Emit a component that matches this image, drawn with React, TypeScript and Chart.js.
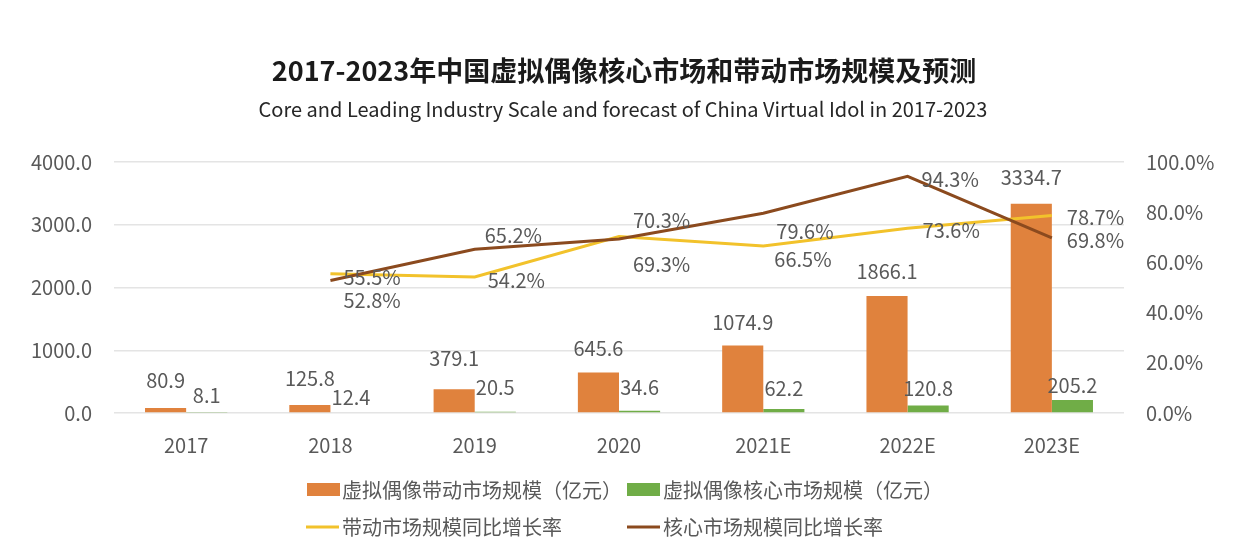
import React, { useEffect, useRef } from "react";
import { Chart, registerables } from "chart.js";

Chart.register(...registerables);

// ---------- data ----------
const categories = ["2017", "2018", "2019", "2020", "2021E", "2022E", "2023E"];
const leadingScale = [80.9, 125.8, 379.1, 645.6, 1074.9, 1866.1, 3334.7];
const coreScale = [8.1, 12.4, 20.5, 34.6, 62.2, 120.8, 205.2];
const leadingGrowth = [null, 55.5, 54.2, 70.3, 66.5, 73.6, 78.7];
const coreGrowth = [null, 52.8, 65.2, 69.3, 79.6, 94.3, 69.8];
const leftTicks = [0, 1000, 2000, 3000, 4000];
const rightTicks = [0, 20, 40, 60, 80, 100];

const seriesNames = [
  "虚拟偶像带动市场规模（亿元）",
  "虚拟偶像核心市场规模（亿元）",
  "带动市场规模同比增长率",
  "核心市场规模同比增长率",
];
const titleText = "2017-2023年中国虚拟偶像核心市场和带动市场规模及预测";
const subtitleText =
  "Core and Leading Industry Scale and forecast of China Virtual Idol in 2017-2023";

// ---------- styles ----------
const FONT = '"Noto Sans CJK SC", "Noto Sans", sans-serif';
const TEXT = "#595959";
const ORANGE = "#E0823D";
const GREEN = "#70AD47";
const YELLOW = "#F2C22B";
const BROWN = "#8B4A1E";
const GRID = "#E4E4E4";

// label offsets (pixels) – styling only
const orangeLabelLift = [28, 27, 31, 24, 23, 24, 26];
const greenLabelLift = [17, 15, 24, 23, 21, 17, 15];
const yellowLabelOffset = [[0, 0], [13, 4], [13, 3], [14, -16], [11, 13], [15, 2], [15, 2]];
const brownLabelOffset = [[0, 0], [13, 20], [10, -14], [14, 25], [13, 18], [14, 3], [15, 3]];

const decorPlugin = {
  id: "decor",
  afterDatasetsDraw(chart: any) {
    const ctx = chart.ctx;
    ctx.save();
    ctx.fillStyle = TEXT;
    ctx.font = `20px ${FONT}`;
    ctx.textBaseline = "middle";

    // bar labels
    const m0 = chart.getDatasetMeta(0);
    const m1 = chart.getDatasetMeta(1);
    ctx.textAlign = "center";
    m0.data.forEach((el: any, i: number) => {
      ctx.fillText(leadingScale[i].toFixed(1), el.x, el.y - orangeLabelLift[i]);
    });
    m1.data.forEach((el: any, i: number) => {
      ctx.fillText(coreScale[i].toFixed(1), el.x, el.y - greenLabelLift[i]);
    });

    // line labels
    ctx.textAlign = "left";
    const m2 = chart.getDatasetMeta(2);
    const m3 = chart.getDatasetMeta(3);
    m2.data.forEach((el: any, i: number) => {
      const v = leadingGrowth[i];
      if (v == null) return;
      ctx.fillText(v.toFixed(1) + "%", el.x + yellowLabelOffset[i][0], el.y + yellowLabelOffset[i][1]);
    });
    m3.data.forEach((el: any, i: number) => {
      const v = coreGrowth[i];
      if (v == null) return;
      ctx.fillText(v.toFixed(1) + "%", el.x + brownLabelOffset[i][0], el.y + brownLabelOffset[i][1]);
    });
    ctx.restore();
  },
  afterDraw(chart: any) {
    const ctx = chart.ctx;
    ctx.save();
    // titles
    ctx.textAlign = "center";
    ctx.textBaseline = "middle";
    ctx.fillStyle = "#1a1a1a";
    ctx.font = `bold 27px ${FONT}`;
    ctx.fillText(titleText, 624, 71);
    ctx.fillStyle = "#262626";
    ctx.font = `20px ${FONT}`;
    ctx.fillText(subtitleText, 623, 109);

    // legend
    ctx.font = `20px ${FONT}`;
    ctx.textAlign = "left";
    ctx.fillStyle = ORANGE;
    ctx.fillRect(307, 483, 33, 13);
    ctx.fillStyle = GREEN;
    ctx.fillRect(627, 483, 33, 13);
    ctx.lineWidth = 3;
    ctx.strokeStyle = YELLOW;
    ctx.beginPath();
    ctx.moveTo(306, 527);
    ctx.lineTo(339, 527);
    ctx.stroke();
    ctx.strokeStyle = BROWN;
    ctx.beginPath();
    ctx.moveTo(627, 527);
    ctx.lineTo(660, 527);
    ctx.stroke();
    ctx.fillStyle = TEXT;
    ctx.fillText(seriesNames[0], 342, 490);
    ctx.fillText(seriesNames[1], 663, 490);
    ctx.fillText(seriesNames[2], 342, 527);
    ctx.fillText(seriesNames[3], 663, 527);
    ctx.restore();
  },
};

export default function App() {
  const ref = useRef<HTMLCanvasElement | null>(null);

  useEffect(() => {
    if (!ref.current) return;
    const chart = new Chart(ref.current, {
      type: "bar",
      data: {
        labels: categories,
        datasets: [
          {
            type: "bar",
            label: seriesNames[0],
            data: leadingScale,
            backgroundColor: ORANGE,
            yAxisID: "y",
            categoryPercentage: 0.57,
            barPercentage: 1,
            order: 2,
          },
          {
            type: "bar",
            label: seriesNames[1],
            data: coreScale,
            backgroundColor: GREEN,
            yAxisID: "y",
            categoryPercentage: 0.57,
            barPercentage: 1,
            order: 2,
          },
          {
            type: "line",
            label: seriesNames[2],
            data: leadingGrowth as any,
            borderColor: YELLOW,
            backgroundColor: YELLOW,
            borderWidth: 3,
            pointRadius: 0,
            tension: 0,
            yAxisID: "y1",
            order: 1,
          },
          {
            type: "line",
            label: seriesNames[3],
            data: coreGrowth as any,
            borderColor: BROWN,
            backgroundColor: BROWN,
            borderWidth: 3,
            pointRadius: 0,
            tension: 0,
            yAxisID: "y1",
            order: 0,
          },
        ] as any,
      },
      options: {
        responsive: false,
        animation: false,
        layout: { padding: { top: 162, bottom: 101, left: 0, right: 0 } },
        plugins: {
          legend: { display: false },
          title: { display: false },
          tooltip: { enabled: false },
        },
        scales: {
          x: {
            grid: { display: false, drawTicks: false },
            border: { display: false },
            ticks: { color: TEXT, font: { family: FONT, size: 20 }, padding: 20 },
            afterFit: (s: any) => {
              s.height = 40;
            },
          },
          y: {
            position: "left",
            min: 0,
            max: 4000,
            grid: { color: GRID, lineWidth: 1.5, drawTicks: false },
            border: { display: false },
            ticks: {
              color: TEXT,
              font: { family: FONT, size: 20 },
              padding: 22,
              callback: (v: any) => Number(v).toFixed(1),
            },
            afterBuildTicks: (s: any) => {
              s.ticks = leftTicks.map((v) => ({ value: v }));
            },
            afterFit: (s: any) => {
              s.width = 114;
            },
          },
          y1: {
            position: "right",
            min: 0,
            max: 100,
            grid: { drawOnChartArea: false, drawTicks: false },
            border: { display: false },
            ticks: {
              color: TEXT,
              font: { family: FONT, size: 20 },
              padding: 22,
              callback: (v: any) => Number(v).toFixed(1) + "%",
            },
            afterBuildTicks: (s: any) => {
              s.ticks = rightTicks.map((v) => ({ value: v }));
            },
            afterFit: (s: any) => {
              s.width = 120;
            },
          },
        },
      } as any,
      plugins: [decorPlugin],
    });
    return () => chart.destroy();
  }, []);

  return (
    <div style={{ position: "fixed", left: 0, top: 0, width: 1244, height: 554, background: "#fff" }}>
      <canvas ref={ref} width={1244} height={554} style={{ display: "block" }} />
    </div>
  );
}
